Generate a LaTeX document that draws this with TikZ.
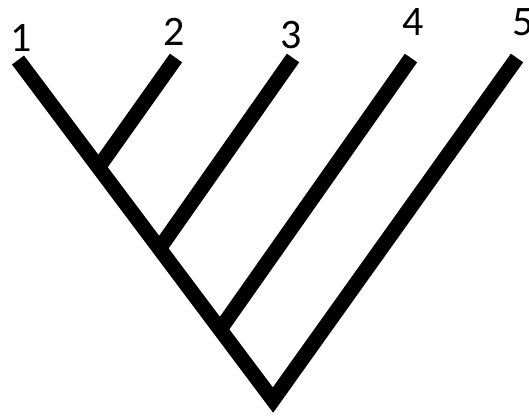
\documentclass[tikz,border=0pt]{standalone}
\usepackage{fontspec}
\setmainfont{Carlito}
\usepackage{tikz}

\begin{document}
\begin{tikzpicture}[
      x=1pt, y=-1pt,
      branch/.style={
        line width=15pt,
        line cap=butt,
        line join=miter
      },
      leaf/.style={
        font=\fontsize{42}{50}\selectfont,
        inner sep=0pt
      }
    ]
    \useasboundingbox (0,0) rectangle (529,416);
    \coordinate (t1) at (18,60);
    \coordinate (t2) at (176,58);
    \coordinate (t3) at (293,58);
    \coordinate (t4) at (411,58);
    \coordinate (t5) at (517,58);
    \coordinate (root) at (273,400);
    \coordinate (j2) at (98,168);
    \coordinate (j3) at (159,249);
    \coordinate (j4) at (219,331);
    \draw[branch] (t1) -- (root) -- (t5);
    \draw[branch] (t2) -- (j2);
    \draw[branch] (t3) -- (j3);
    \draw[branch] (t4) -- (j4);
    \node[leaf] (n1) at (21,38) {1};
    \node[leaf] (n2) at (174,32) {2};
    \node[leaf] (n3) at (291,35) {3};
    \node[leaf] (n4) at (413,22) {4};
    \node[leaf] (n5) at (523,22) {5};
  \end{tikzpicture}
\end{document}
